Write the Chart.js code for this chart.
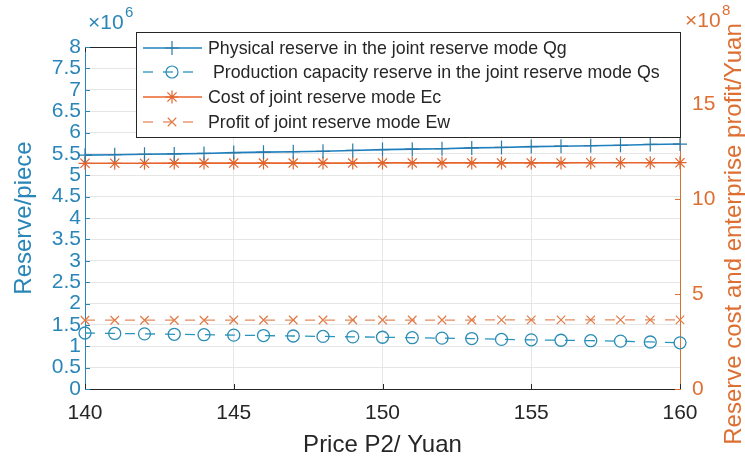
<!DOCTYPE html>
<html lang="en">
<head>
<meta charset="UTF-8">
<title>Joint reserve mode</title>
<script src="https://cdn.jsdelivr.net/npm/chart.js"></script>
<style>
  body { margin: 0; background: #fff; }
</style>
</head>
<body>
<canvas id="myChart" width="745" height="462"></canvas>
<script>
// price P2 (x axis)
const prices = [140, 141, 142, 143, 144, 145, 146, 147, 148, 149, 150,
                151, 152, 153, 154, 155, 156, 157, 158, 159, 160];
// left axis, pieces
const qg = [5470000, 5480000, 5490000, 5500000, 5510000, 5530000, 5540000, 5550000, 5560000, 5580000, 5600000,
            5610000, 5620000, 5640000, 5650000, 5670000, 5680000, 5690000, 5700000, 5720000, 5730000];
const qs = [1310000, 1300000, 1290000, 1280000, 1270000, 1260000, 1250000, 1240000, 1230000, 1220000, 1210000,
            1200000, 1190000, 1180000, 1160000, 1150000, 1140000, 1130000, 1120000, 1100000, 1080000];
// right axis, yuan
const ec = [1188000000, 1188000000, 1188000000, 1189000000, 1189000000, 1189000000, 1189000000, 1189000000, 1189000000, 1189000000, 1190000000,
            1190000000, 1190000000, 1190000000, 1190000000, 1190000000, 1190000000, 1191000000, 1191000000, 1191000000, 1191000000];
const ew = [362000000, 362000000, 362000000, 362000000, 362000000, 363000000, 363000000, 363000000, 363000000, 363000000, 363000000,
            363000000, 363000000, 363000000, 364000000, 364000000, 364000000, 364000000, 364000000, 364000000, 364000000];
// right axis tick labels (x 10^8)
const rightTicks = [0, 5, 10, 15];

const seriesNames = [
    'Physical reserve in the joint reserve mode Qg',
    ' Production capacity reserve in the joint reserve mode Qs',
    'Cost of joint reserve mode Ec',
    'Profit of joint reserve mode Ew'
];

const FONT = "'Liberation Sans', Arial, sans-serif";
const blueAxis = '#2a86b8';
const orangeAxis = '#de6f33';

function toPoints(arr) {
    return prices.map(function (p, i) { return { x: p, y: arr[i] }; });
}

// small marker painter for the hand drawn legend
function drawMarker(ctx, style, x, y, r, color) {
    ctx.save();
    ctx.strokeStyle = color;
    ctx.lineWidth = 1.2;
    ctx.setLineDash([]);
    ctx.beginPath();
    if (style === 'cross' || style === 'star') {
        ctx.moveTo(x - r, y); ctx.lineTo(x + r, y);
        ctx.moveTo(x, y - r); ctx.lineTo(x, y + r);
    }
    if (style === 'crossRot' || style === 'star') {
        const d = r * 0.707;
        ctx.moveTo(x - d, y - d); ctx.lineTo(x + d, y + d);
        ctx.moveTo(x - d, y + d); ctx.lineTo(x + d, y - d);
    }
    if (style === 'circle') {
        ctx.arc(x, y, r, 0, Math.PI * 2);
    }
    ctx.stroke();
    ctx.restore();
}

const extras = {
    id: 'extras',
    afterDraw(chart) {
        const ctx = chart.ctx;
        const ca = chart.chartArea;
        const sx = chart.scales.x, sy = chart.scales.y, sy1 = chart.scales.y1;
        ctx.save();

        // box top line
        ctx.strokeStyle = '#262626';
        ctx.lineWidth = 1;
        ctx.beginPath();
        ctx.moveTo(ca.left, ca.top + 0.5);
        ctx.lineTo(ca.right, ca.top + 0.5);
        ctx.stroke();

        // inward tick marks like matlab
        sx.ticks.forEach(function (t) {
            const px = Math.round(sx.getPixelForValue(t.value)) + 0.5;
            ctx.beginPath();
            ctx.moveTo(px, ca.bottom); ctx.lineTo(px, ca.bottom - 5);
            ctx.moveTo(px, ca.top); ctx.lineTo(px, ca.top + 5);
            ctx.stroke();
        });
        ctx.strokeStyle = blueAxis;
        sy.ticks.forEach(function (t) {
            const py = Math.round(sy.getPixelForValue(t.value)) + 0.5;
            ctx.beginPath();
            ctx.moveTo(ca.left, py); ctx.lineTo(ca.left + 5, py);
            ctx.stroke();
        });
        ctx.strokeStyle = orangeAxis;
        sy1.ticks.forEach(function (t) {
            const py = Math.round(sy1.getPixelForValue(t.value)) + 0.5;
            ctx.beginPath();
            ctx.moveTo(ca.right, py); ctx.lineTo(ca.right - 5, py);
            ctx.stroke();
        });

        // exponents
        ctx.textBaseline = 'alphabetic';
        ctx.textAlign = 'left';
        ctx.fillStyle = blueAxis;
        ctx.font = '21px ' + FONT;
        ctx.fillText('\u00d710', 88, 29);
        ctx.font = '15px ' + FONT;
        ctx.fillText('6', 125, 17);
        ctx.fillStyle = orangeAxis;
        ctx.font = '21px ' + FONT;
        ctx.fillText('\u00d710', 685, 27);
        ctx.font = '15px ' + FONT;
        ctx.fillText('8', 722, 15);

        // right axis title, reads bottom to top
        ctx.save();
        ctx.translate(734, 234);
        ctx.rotate(-Math.PI / 2);
        ctx.textAlign = 'center';
        ctx.textBaseline = 'middle';
        ctx.font = '24px ' + FONT;
        ctx.fillStyle = orangeAxis;
        ctx.fillText('Reserve cost and enterprise profit/Yuan', 0, 0);
        ctx.restore();

        // legend box
        const lx = 136, ly = 32, lw = 544, lh = 105;
        ctx.fillStyle = '#ffffff';
        ctx.fillRect(lx, ly, lw, lh);
        ctx.strokeStyle = '#262626';
        ctx.lineWidth = 1;
        ctx.strokeRect(lx + 0.5, ly + 0.5, lw, lh);
        const rows = [48, 72, 97, 122];
        chart.data.datasets.forEach(function (ds, i) {
            const y = rows[i];
            ctx.strokeStyle = ds.borderColor;
            ctx.lineWidth = ds.borderWidth;
            ctx.setLineDash(ds.borderDash || []);
            ctx.beginPath();
            ctx.moveTo(143, y); ctx.lineTo(202, y);
            ctx.stroke();
            ctx.setLineDash([]);
            drawMarker(ctx, ds.pointStyle, 172, y, ds.pointRadius, ds.pointBorderColor);
            ctx.fillStyle = '#262626';
            ctx.font = '17.8px ' + FONT;
            ctx.textAlign = 'left';
            ctx.textBaseline = 'middle';
            ctx.fillText(ds.label, 208, y + 1);
        });
        ctx.restore();
    }
};

const ctx = document.getElementById('myChart').getContext('2d');
const myChart = new Chart(ctx, {
    type: 'line',
    data: {
        datasets: [{
            label: seriesNames[0],
            data: toPoints(qg),
            yAxisID: 'y',
            borderColor: '#1e80c0',
            borderWidth: 1.6,
            pointStyle: 'cross',
            pointRadius: 7,
            pointBorderColor: '#2a7aa8',
            pointBorderWidth: 1.2
        }, {
            label: seriesNames[1],
            data: toPoints(qs),
            yAxisID: 'y',
            borderColor: '#2a95bd',
            borderWidth: 1.3,
            borderDash: [10, 10],
            pointStyle: 'circle',
            pointRadius: 6,
            pointBackgroundColor: 'rgba(0,0,0,0)',
            pointBorderColor: '#2a8db5',
            pointBorderWidth: 1.3
        }, {
            label: seriesNames[2],
            data: toPoints(ec),
            yAxisID: 'y1',
            borderColor: '#e8642c',
            borderWidth: 1.6,
            pointStyle: 'star',
            pointRadius: 6.5,
            pointBorderColor: '#e0642c',
            pointBorderWidth: 1.2
        }, {
            label: seriesNames[3],
            data: toPoints(ew),
            yAxisID: 'y1',
            borderColor: '#e58b5e',
            borderWidth: 1.3,
            borderDash: [10, 10],
            pointStyle: 'crossRot',
            pointRadius: 6,
            pointBorderColor: '#e07a45',
            pointBorderWidth: 1.2
        }]
    },
    options: {
        responsive: false,
        animation: false,
        layout: { padding: { top: 47, left: 0, right: 0, bottom: 0 } },
        datasets: { line: { clip: false, tension: 0, fill: false } },
        plugins: { legend: { display: false }, tooltip: { enabled: false } },
        scales: {
            x: {
                type: 'linear',
                min: 140, max: 160,
                afterFit: function (s) { s.height = 73; },
                ticks: { stepSize: 5, padding: 12, color: '#262626', font: { family: FONT, size: 21 } },
                grid: { color: '#e6e6e6', drawTicks: false },
                border: { color: '#262626' },
                title: { display: true, text: 'Price P2/ Yuan', color: '#262626', padding: { top: 0, bottom: 2 },
                         font: { family: FONT, size: 24 } }
            },
            y: {
                position: 'left',
                min: 0, max: 8000000,
                afterFit: function (s) { s.width = 85; },
                ticks: {
                    stepSize: 500000, autoSkip: false, padding: 4, color: blueAxis,
                    font: { family: FONT, size: 21 },
                    callback: function (v) { return String(v / 1000000); }
                },
                grid: { color: '#e6e6e6', drawTicks: false },
                border: { color: blueAxis },
                title: { display: true, text: 'Reserve/piece', color: blueAxis, padding: { top: 10 },
                         font: { family: FONT, size: 24 } }
            },
            y1: {
                position: 'right',
                min: 0, max: 1800000000,
                afterFit: function (s) { s.width = 65; },
                afterBuildTicks: function (s) {
                    s.ticks = rightTicks.map(function (v) { return { value: v * 100000000 }; });
                },
                ticks: {
                    autoSkip: false, padding: 12, color: orangeAxis,
                    font: { family: FONT, size: 21 },
                    callback: function (v) { return String(Math.round(v / 100000000)); }
                },
                grid: { display: false, drawTicks: false },
                border: { color: orangeAxis }
            }
        }
    },
    plugins: [extras]
});
</script>
</body>
</html>
